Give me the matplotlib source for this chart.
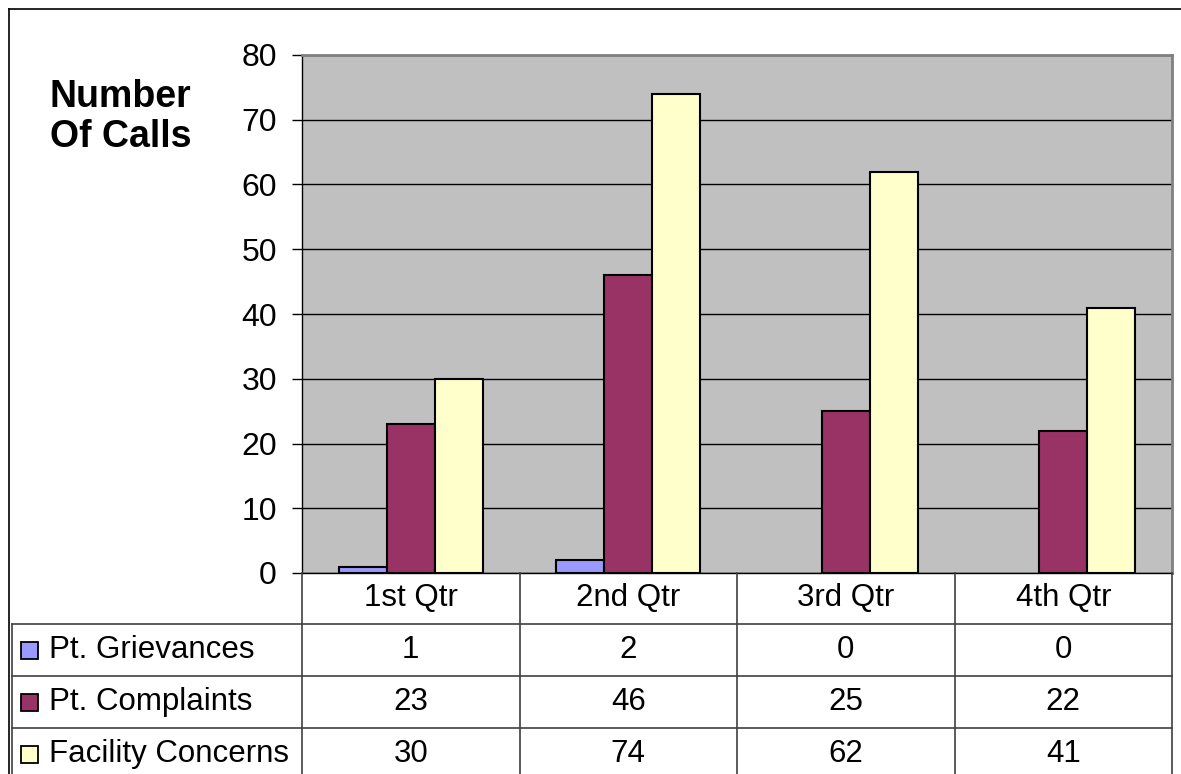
import matplotlib
matplotlib.use("Agg")
import matplotlib.pyplot as plt
from matplotlib.lines import Line2D
from matplotlib.patches import Rectangle
import numpy as np

plt.rcParams['font.family'] = ['Liberation Sans', 'DejaVu Sans']

categories = ["1st Qtr", "2nd Qtr", "3rd Qtr", "4th Qtr"]
series_names = ["Pt. Grievances", "Pt. Complaints", "Facility Concerns"]
grievances = [1, 2, 0, 0]
complaints = [23, 46, 25, 22]
facility = [30, 74, 62, 41]
series_values = [grievances, complaints, facility]
colors = ["#9999FF", "#993366", "#FFFFCC"]
yticks = [0, 10, 20, 30, 40, 50, 60, 70, 80]

W, H = 1181, 774
fig = plt.figure(figsize=(W / 100, H / 100), dpi=100)

# pixel geometry
L, R, T, B = 302, 1172, 55, 573
ax = fig.add_axes([L / W, 1 - B / H, (R - L) / W, (B - T) / H])
ax.set_facecolor("#C0C0C0")

x = np.arange(len(categories))
bw = 0.22
for i, (vals, c) in enumerate(zip(series_values, colors)):
    bars = ax.bar(x + (i - 1) * bw, vals, width=bw, color=c, edgecolor="black",
                  linewidth=1.5, zorder=3)
    for b, v in zip(bars, vals):
        if v == 0:
            b.set_visible(False)

ax.set_xlim(-0.5, len(categories) - 0.5)
ax.set_ylim(0, 80)
ax.set_yticks(yticks)
ax.set_yticklabels([str(v) for v in yticks], fontsize=23)
ax.set_xticks([])
ax.yaxis.grid(True, color="black", linewidth=1.0, zorder=1)
ax.set_axisbelow(True)
ax.tick_params(axis="y", length=7, width=1, pad=11, color="black")
for side in ["top", "right"]:
    ax.spines[side].set_color("#808080")
    ax.spines[side].set_linewidth(2)
ax.spines["left"].set_color("black")
ax.spines["left"].set_linewidth(1)
ax.spines["bottom"].set_color("black")
ax.spines["bottom"].set_linewidth(1)

# overlay in pixel coordinates for table and frame
ov = fig.add_axes([0, 0, 1, 1], facecolor="none")
ov.set_xlim(0, W)
ov.set_ylim(H, 0)
ov.axis("off")

# outer chart frame
ov.add_line(Line2D([9, 9], [9, H + 5], color="black", linewidth=1.2))
ov.add_line(Line2D([9, W + 5], [9, 9], color="black", linewidth=1.2))

ov.text(50, 117, "Number\nOf Calls", fontsize=27, fontweight="bold",
        ha="left", va="center", linespacing=1.15)

# table geometry
col_edges = [L + (R - L) * k / len(categories) for k in range(len(categories) + 1)]
row_edges = [B, 624, 676, 728, 780]
lc = "#404040"
for xe in col_edges:
    ov.add_line(Line2D([xe, xe], [B, H + 5], color=lc, linewidth=1.2))
ov.add_line(Line2D([12, 12], [row_edges[1], H + 5], color=lc, linewidth=1.2))
for ye in row_edges[1:4]:
    ov.add_line(Line2D([12, R], [ye, ye], color=lc, linewidth=1.2))

fs = 22.5
for k, cat in enumerate(categories):
    cx = (col_edges[k] + col_edges[k + 1]) / 2
    ov.text(cx, (row_edges[0] + row_edges[1]) / 2, cat, fontsize=fs,
            ha="center", va="center")

for r, (name, vals, c) in enumerate(zip(series_names, series_values, colors)):
    cy = (row_edges[r + 1] + row_edges[r + 2]) / 2
    ov.add_patch(Rectangle((21, cy - 8), 17, 17, facecolor=c,
                           edgecolor="black", linewidth=1.3))
    ov.text(49, cy, name, fontsize=fs, ha="left", va="center")
    for k, v in enumerate(vals):
        cx = (col_edges[k] + col_edges[k + 1]) / 2
        ov.text(cx, cy, str(v), fontsize=fs, ha="center", va="center")

fig.savefig("out.png", dpi=100)
